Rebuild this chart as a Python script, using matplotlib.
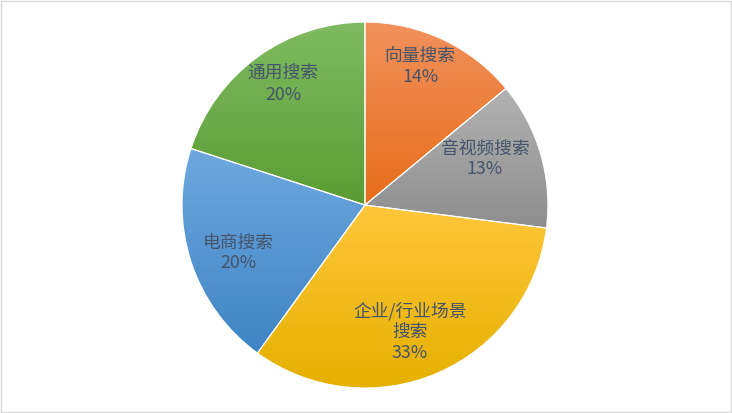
import numpy as np
import matplotlib.pyplot as plt
from matplotlib.colors import LinearSegmentedColormap

plt.rcParams['font.family'] = ['Noto Sans CJK SC', 'DejaVu Sans']

labels = ['向量搜索', '音视频搜索', '企业/行业场景\n搜索', '电商搜索', '通用搜索']
shares = [14, 13, 33, 20, 20]
# gradient colours (top, bottom) for each slice
tops = ['#f1915c', '#b2b2b2', '#ffc73a', '#6fa8df', '#80ba62']
bottoms = ['#e76d1a', '#8e8e8e', '#e5b000', '#3e84c4', '#5a9d33']
# label placement: radius fraction and angle nudge (deg) from slice middle
label_r = [0.814, 0.703, 0.737, 0.742, 0.797]
label_da = [3.5, 5.0, -3.9, 2.7, -1.8]

fig = plt.figure(figsize=(7.32, 4.13), dpi=100)
ax = fig.add_axes([0.2486, 0.0605, 0.5, 0.886])

wedges, _ = ax.pie(shares, startangle=90, counterclock=False,
                   wedgeprops=dict(edgecolor='white', linewidth=0.8))

for w, c1, c2, lab, pct, r, da in zip(wedges, tops, bottoms, labels, shares, label_r, label_da):
    bb = w.get_path().get_extents()
    cmap = LinearSegmentedColormap.from_list('g', [c1, c2])
    grad = np.linspace(0, 1, 256).reshape(-1, 1)
    im = ax.imshow(grad, cmap=cmap, aspect='auto', origin='upper',
                   extent=[bb.x0, bb.x1, bb.y0, bb.y1], zorder=1)
    im.set_clip_path(w)
    w.set_facecolor('none')
    w.set_zorder(2)
    ang = np.deg2rad((w.theta1 + w.theta2) / 2 + da)
    ax.text(r * np.cos(ang), r * np.sin(ang), f'{lab}\n{pct}%',
            ha='center', va='center', fontsize=12.8, color='#44546a',
            linespacing=1.2, zorder=3)

ax.set_xlim(-1, 1)
ax.set_ylim(-1, 1)
ax.set_aspect('equal')
ax.axis('off')

fig.patches.append(plt.Rectangle((0.001, 0.002), 0.997, 0.995, transform=fig.transFigure,
                                 fill=False, edgecolor='#d9d9d9', linewidth=1))

fig.savefig('out.png', dpi=100)
